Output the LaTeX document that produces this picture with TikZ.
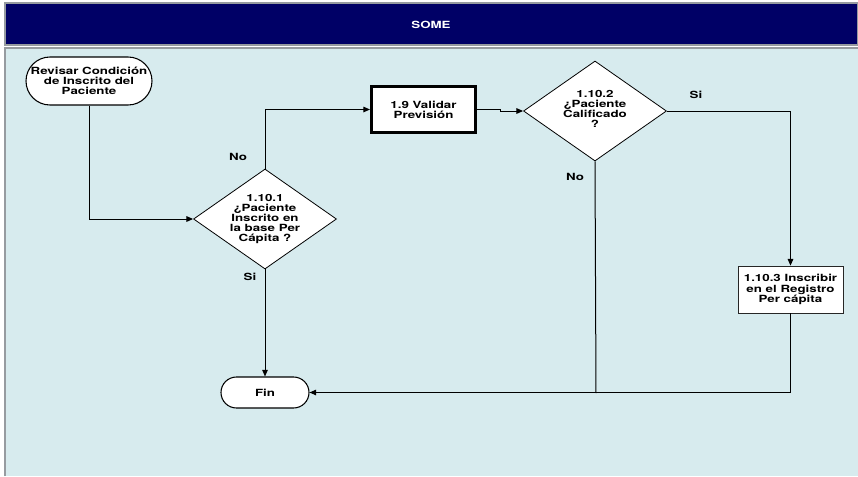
\documentclass[tikz,border=0pt]{standalone}
\usepackage{fontspec}
\newfontfamily\flowfont{TeX Gyre Heros}[FakeStretch=1.35]
\usetikzlibrary{shapes.geometric,shapes.misc,arrows.meta}
\definecolor{bandnavy}{RGB}{0,0,102}
\definecolor{lanebg}{RGB}{215,235,238}
\definecolor{frameline}{RGB}{150,155,160}
\tikzset{
  x=0.75pt, y=-0.75pt,
  txt/.style={font=\flowfont\bfseries\fontsize{7.4pt}{7.6pt}\selectfont, align=center, inner sep=0pt},
  terminal/.style={rounded rectangle, draw=black, line width=0.8pt, fill=white, txt},
  process/.style={rectangle, draw=black, fill=white, txt},
  decision/.style={diamond, draw=black, line width=0.6pt, fill=white, inner sep=0pt,
                   minimum width=107.25pt, minimum height=75pt},
  flow/.style={line width=0.75pt, -{Triangle[length=5pt,width=4.2pt]}},
  plain/.style={line width=0.75pt},
  lbl/.style={txt}
}
\begin{document}
\begin{tikzpicture}
\useasboundingbox (0,0) rectangle (858,476);
% title band and lane
\fill[lanebg] (5,48) rectangle (858,476);
\draw[frameline, line width=0.8pt] (5,476) -- (5,48) -- (858,48);
\draw[frameline, line width=0.8pt, fill=bandnavy] (5,3) rectangle (858,45);
\node[txt, text=white] (title) at (431,25) {SOME};

% nodes
\node[terminal, minimum width=94.5pt, minimum height=36pt] (start) at (89,81)
  {Revisar Condición\\de Inscrito del\\Paciente};
\node[decision, label={[txt]center:{1.10.1\\¿Paciente\\Inscrito en\\la base Per\\Cápita ?}}] (d1) at (265,219) {};
\node[process, line width=2.3pt, minimum width=78pt, minimum height=34.5pt] (val) at (423.5,109.5)
  {1.9 Validar\\Previsión};
\node[decision, label={[txt, yshift=1.5pt]center:{1.10.2\\¿Paciente\\Calificado\\?}}] (d2) at (595,111) {};
\node[process, draw=black!85, line width=0.6pt, minimum width=78.75pt, minimum height=35.25pt] (reg) at (790.5,289.5)
  {1.10.3 Inscribir\\en el Registro\\Per cápita};
\node[terminal, minimum width=66pt, minimum height=23.25pt] (fin) at (265,392.5) {Fin};

\coordinate (jog) at (500,109.5);
\coordinate (merge) at (596,393);

% connectors
\draw[flow] (start.south) |- (d1.west);
\draw[flow] (d1.north) |- (val.west);
\draw[flow] (val.east) -- (jog) -- ++(0,1.5) -- (d2.west);
\draw[flow] (d2.east) -| (reg.north);
\draw[plain] (d2.south) -- (merge);
\draw[flow] (reg.south) |- (fin.east);
\draw[flow] (d1.south) -- (fin.north);

% branch labels
\node[lbl] (l1) at (238,157) {No};
\node[lbl] (l2) at (250,277) {Si};
\node[lbl] (l3) at (696,95) {Si};
\node[lbl] (l4) at (575,177) {No};
\end{tikzpicture}
\end{document}
